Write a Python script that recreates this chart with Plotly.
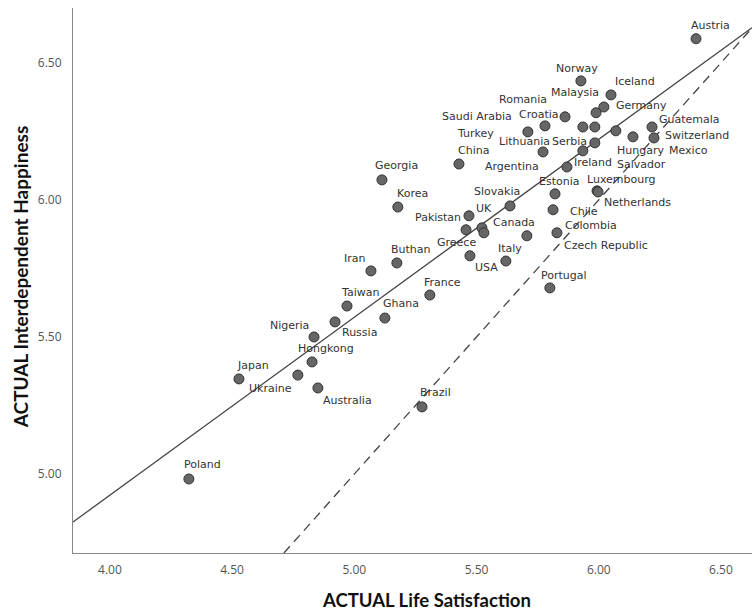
import plotly.graph_objects as go

countries = ["Austria", "Norway", "Iceland", "Germany", "Malaysia", "Romania", "Croatia",
             "Saudi Arabia", "Turkey", "Lithuania", "Serbia", "Ireland", "Argentina",
             "Salvador", "Mexico", "Hungary", "Guatemala", "Switzerland", "China", "Georgia",
             "Estonia", "Luxembourg", "Netherlands", "Korea", "Slovakia", "Chile", "UK",
             "Pakistan", "Greece", "Czech Republic", "Canada", "Colombia", "USA", "Italy",
             "Portugal", "Buthan", "Iran", "France", "Taiwan", "Ghana", "Russia", "Nigeria",
             "Hongkong", "Japan", "Ukraine", "Australia", "Brazil", "Poland"]

life_satisfaction = [6.398, 5.927, 6.050, 6.021, 5.989, 5.935, 5.862,
                     5.780, 5.710, 5.772, 5.935, 5.984, 5.870,
                     5.984, 6.070, 6.140, 6.218, 6.226, 5.428, 5.113,
                     5.821, 5.993, 5.997, 5.178, 5.637, 5.813, 5.469,
                     5.457, 5.522, 5.530, 5.706, 5.829, 5.473, 5.620,
                     5.800, 5.174, 5.068, 5.309, 4.970, 5.125, 4.921, 4.835,
                     4.827, 4.528, 4.769, 4.851, 5.277, 4.323]

interdependent_happiness = [6.588, 6.434, 6.383, 6.339, 6.318, 6.266, 6.303,
                            6.270, 6.248, 6.175, 6.179, 6.208, 6.120,
                            6.266, 6.252, 6.230, 6.266, 6.226, 6.131, 6.073,
                            6.022, 6.033, 6.029, 5.974, 5.978, 5.964, 5.942,
                            5.891, 5.898, 5.880, 5.869, 5.880, 5.796, 5.777,
                            5.679, 5.770, 5.741, 5.653, 5.613, 5.569, 5.555, 5.500,
                            5.409, 5.347, 5.361, 5.314, 5.245, 4.982]

# fit line (intercept, slope)
fit_intercept = 2.327
fit_slope = 0.649

x_ticks = [4.0, 4.5, 5.0, 5.5, 6.0, 6.5]
y_ticks = [5.0, 5.5, 6.0, 6.5]

# label pixel offsets (dx, dy) relative to each point
label_dx = [14.5, -3.5, 24, 37.5, -21, -60, -26.5,
            -68, -52, -18.5, -13.5, -1.5, -54.5,
            47, 73, 8, 37.5, 43.5, 14.5, 14.5,
            4.5, 24, 39.5, 15, -13.5, 30.5, 15,
            -28, -25, 122, -12.5, 34, 17, 4.5,
            14.5, 14, -16, 13, 12.5, 16.5, 24, -24.5,
            14, 14, -27.5, 30, 13.5, 13.5]
label_dy = [13, 12, 13, 1, 20, 27, 2,
            9, -2, 10, 9, -20, 1,
            -38, -20, -14, 7, 2, 13, 14,
            12, 11, -11, 14, 14, -2, 7,
            12, -15, -13, 13, 7, -12, 13,
            12, 13, 12, 13, 14, 15, -11, 11,
            13, 13, -13, -13, 14, 14]

x_range = [3.849, 6.627]
y_range = [4.712, 6.70]

fig = go.Figure()

fit_x = list(x_range)
fit_y = [fit_intercept + fit_slope * v for v in fit_x]
fig.add_trace(go.Scatter(x=fit_x, y=fit_y, mode="lines",
                         line=dict(color="#444444", width=1.3), hoverinfo="skip",
                         showlegend=False))
fig.add_trace(go.Scatter(x=[y_range[0], x_range[1]], y=[y_range[0], x_range[1]], mode="lines",
                         line=dict(color="#444444", width=1.3, dash="9px,6px"), hoverinfo="skip",
                         showlegend=False))
fig.add_trace(go.Scatter(x=life_satisfaction, y=interdependent_happiness, mode="markers",
                         marker=dict(size=10, color="#666666",
                                     line=dict(color="#333333", width=1)),
                         text=countries, showlegend=False))

for name, xv, yv, dx, dy in zip(countries, life_satisfaction, interdependent_happiness,
                                label_dx, label_dy):
    fig.add_annotation(x=xv, y=yv, xref="x", yref="y", text=name, showarrow=False,
                       xshift=dx, yshift=dy, xanchor="center", yanchor="middle",
                       font=dict(family="DejaVu Sans", size=11, color="#333333"))

fig.add_annotation(x=0.521, y=0, xref="paper", yref="paper", yshift=-47,
                   text="<b>ACTUAL Life Satisfaction</b>", showarrow=False,
                   xanchor="center", yanchor="middle",
                   font=dict(family="Lato", size=18.5, color="#111111"))
fig.add_annotation(x=0, y=0.506, xref="paper", yref="paper", xshift=-53,
                   text="<b>ACTUAL Interdependent Happiness</b>", showarrow=False,
                   textangle=-90, xanchor="center", yanchor="middle",
                   font=dict(family="Lato", size=19, color="#111111"))

fig.update_layout(
    width=752, height=611,
    margin=dict(l=73, r=0, t=8, b=58),
    plot_bgcolor="white", paper_bgcolor="white",
    xaxis=dict(range=x_range, tickvals=x_ticks, ticktext=[f"{v:.2f}" for v in x_ticks],
               showgrid=False, zeroline=False, showline=True, linecolor="#888888",
               linewidth=1, ticks="outside", ticklen=6, tickcolor="rgba(0,0,0,0)",
               tickfont=dict(family="Open Sans", size=12, color="#555555")),
    yaxis=dict(range=y_range, tickvals=y_ticks, ticktext=[f"{v:.2f}" for v in y_ticks],
               showgrid=False, zeroline=False, showline=True, linecolor="#888888",
               linewidth=1, ticks="outside", ticklen=8, tickcolor="rgba(0,0,0,0)",
               tickfont=dict(family="Open Sans", size=12, color="#555555")),
)

fig.write_html("out.html", config={"displayModeBar": False},
               post_script="document.body.style.margin='0px';document.body.style.overflow='hidden';")
